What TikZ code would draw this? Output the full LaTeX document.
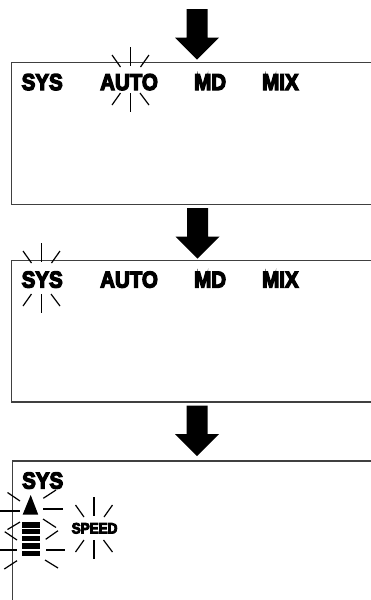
\documentclass[tikz,border=0pt]{standalone}
\usepackage{fontspec}
\newfontfamily\lcdfont[FakeBold=6]{Liberation Sans Bold}
\newcommand{\tallt}[1]{\scalebox{1}[1.12]{#1}}
\tikzset{
  x=1pt,y=-1pt,
  panel/.style={line width=1.2pt,draw=black!75},
  ray/.style={line width=1.2pt,black},
  rayv/.style={line width=1.8pt,black},
  bigarrow/.style={fill=black,draw=none},
  lcd/.style={font=\lcdfont\fontsize{20.5}{20.5}\selectfont,inner sep=0pt,anchor=base west},
  lcdsmall/.style={font=\lcdfont\fontsize{13.5}{13.5}\selectfont,inner sep=0pt,anchor=base west},
  bar/.style={fill=black,draw=none}
}
\newcommand{\downarrowshape}[2]{% x centre, y top
  \fill[bigarrow] (#1-10.5,#2) -- (#1+10.5,#2) -- (#1+10.5,#2+28.5) -- (#1+22,#2+28.5)
    -- (#1,#2+50.5) -- (#1-22,#2+28.5) -- (#1-10.5,#2+28.5) -- cycle;}
\newcommand{\burst}[3]{% centre x, top of upper ray, top of lower ray
  \draw[rayv] (#1,#2) -- (#1,#2+19) (#1,#3) -- (#1,#3+19);
  \draw[ray] (#1-18.5,#2+8) -- (#1-10,#2+20) (#1+18.5,#2+8) -- (#1+10,#2+20)
             (#1-18.5,#3+12) -- (#1-10,#3) (#1+18.5,#3+12) -- (#1+9.5,#3);}
\begin{document}
\begin{tikzpicture}
\useasboundingbox (0,0) rectangle (371,600);
\fill[white] (0,0) rectangle (371,600);
% panels
\draw[panel] (371,62.5) -- (11.5,62.5) -- (11.5,204.5) -- (371,204.5);
\draw[panel] (371,260.5) -- (11.5,260.5) -- (11.5,402) -- (371,402);
\draw[panel] (371,461) -- (12.5,461) -- (12.5,600);
% arrows
\downarrowshape{197}{9}
\downarrowshape{197.5}{208}
\downarrowshape{197}{405.5}
% panel 1 labels
\node[lcd] (sysA) at (21.5,90) {\tallt{SYS}};
\node[lcd] (autoA) at (100,90) {\tallt{AUTO}};
\node[lcd] (mdA) at (194,90) {\tallt{MD}};
\node[lcd] (mixA) at (262,90) {\tallt{MIX}};
\burst{130.5}{47}{93}
% panel 2 labels
\node[lcd] (sysB) at (21.5,287.5) {\tallt{SYS}};
\node[lcd] (autoB) at (100,287.5) {\tallt{AUTO}};
\node[lcd] (mdB) at (194,287.5) {\tallt{MD}};
\node[lcd] (mixB) at (262,287.5) {\tallt{MIX}};
\burst{41.5}{243}{294}
% panel 3
\node[lcd] (sysC) at (22,488.5) {\tallt{SYS}};
\node[lcdsmall] (speed) at (71.5,533.5) {\tallt{SPEED}};
\burst{94}{497}{540}
\fill[black] (30.7,495) -- (38.2,514.5) -- (22.7,514.5) -- cycle;
\fill[bar] (21.5,522) rectangle (40,527.5);
\fill[bar] (21.5,529.3) rectangle (40,534);
\fill[bar] (21.5,536) rectangle (40,541);
\fill[bar] (21.5,543) rectangle (40,548.5);
\fill[bar] (21.5,551) rectangle (40,556);
\draw[rayv] (0,511) -- (20,511) (43,509) -- (63,509) (0,550) -- (17,550) (46,550) -- (65,550);
\draw[ray] (7.5,492.5) -- (20,501) (43.3,498.3) -- (56,490)
  (7.5,529.5) -- (20,522) (43,519) -- (56,527.5)
  (4.7,531.7) -- (17,540) (45.7,539.3) -- (58,530.7)
  (4.3,569) -- (17,560.7) (45,560) -- (58,568);
\end{tikzpicture}
\end{document}
